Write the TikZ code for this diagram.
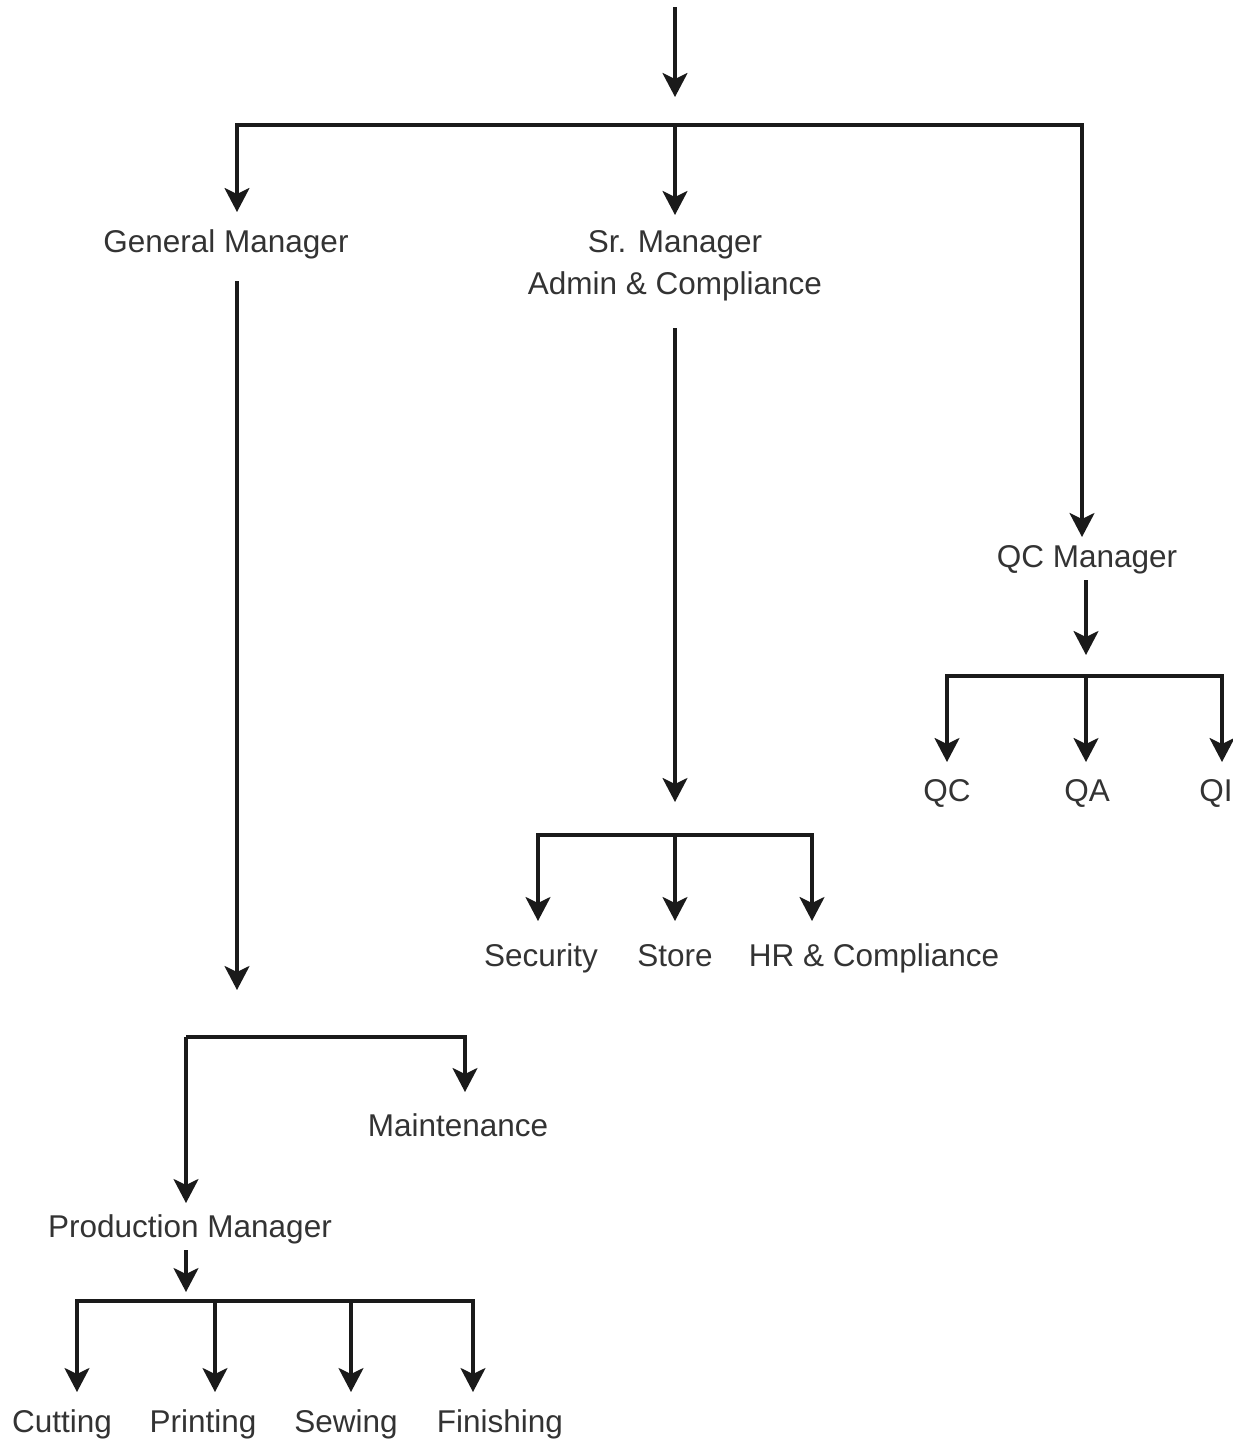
\documentclass[tikz,border=0pt]{standalone}
\usepackage{fontspec}
\setmainfont{Liberation Sans}
\usetikzlibrary{arrows.meta}
\definecolor{txt}{HTML}{333333}
\definecolor{ln}{HTML}{1A1A1A}
\begin{document}
\begin{tikzpicture}[x=1pt,y=-1pt,
  lbl/.style={text=txt,font=\fontsize{31.5}{42}\selectfont,inner sep=0pt,anchor=base},
  conn/.style={draw=ln,line width=3.1pt},
  arr/.style={conn,-{Stealth[length=24pt,width=25pt,inset=6pt]}}]
\useasboundingbox (0,0) rectangle (1233,1441);
% nodes
\node[lbl] (gm) at (226,252) {General Manager};
\node[lbl] (sr) at (675,252) {Sr. Manager};
\node[lbl] (sr2) at (675,294) {Admin \& Compliance};
\node[lbl] (qcm) at (1087,567) {QC Manager};
\node[lbl] (qc) at (947,801) {QC};
\node[lbl] (qa) at (1087,801) {QA};
\node[lbl] (qi) at (1216,801) {QI};
\node[lbl] (sec) at (541,966) {Security};
\node[lbl] (sto) at (675,966) {Store};
\node[lbl] (hr) at (874,966) {HR \& Compliance};
\node[lbl] (mai) at (458,1136) {Maintenance};
\node[lbl] (pm) at (190,1237) {Production Manager};
\node[lbl] (cut) at (62,1432) {Cutting};
\node[lbl] (pri) at (203,1432) {Printing};
\node[lbl] (sew) at (346,1432) {Sewing};
\node[lbl] (fin) at (500,1432) {Finishing};
% coordinates
\coordinate (top) at (675,7);
\coordinate (topt) at (675,97);
\coordinate (b1) at (675,125);
\coordinate (gmt) at (237,212);
\coordinate (srt) at (675,215);
\coordinate (qcmt) at (1082,537);
\coordinate (gms) at (237,281);
\coordinate (gme) at (237,990);
\coordinate (b4) at (186,1037);
\coordinate (mait) at (465,1092);
\coordinate (pmt) at (186,1203);
\coordinate (srs) at (675,328);
\coordinate (sre) at (675,802);
\coordinate (b2) at (675,835);
\coordinate (sect) at (538,921);
\coordinate (stot) at (675,921);
\coordinate (hrt) at (812,921);
\coordinate (qcms) at (1086,580);
\coordinate (qcme) at (1086,655);
\coordinate (b3) at (1086,676);
\coordinate (qct) at (947,762);
\coordinate (qat) at (1086,762);
\coordinate (qit) at (1222,762);
\coordinate (pms) at (186,1250);
\coordinate (pme) at (186,1292);
\coordinate (b5) at (186,1301);
\coordinate (cutt) at (77,1392);
\coordinate (prit) at (215,1392);
\coordinate (sewt) at (351,1392);
\coordinate (fint) at (473,1392);
% connectors
\draw[arr] (top) -- (topt);
\draw[arr] (b1) -| (gmt);
\draw[arr] (b1) -- (srt);
\draw[arr] (b1) -| (qcmt);
\draw[arr] (gms) -- (gme);
\draw[arr] (b4) -- (pmt);
\draw[arr] (b4) -| (mait);
\draw[arr] (srs) -- (sre);
\draw[arr] (b2) -| (sect);
\draw[arr] (b2) -- (stot);
\draw[arr] (b2) -| (hrt);
\draw[arr] (qcms) -- (qcme);
\draw[arr] (b3) -| (qct);
\draw[arr] (b3) -- (qat);
\draw[arr] (b3) -| (qit);
\draw[arr] (pms) -- (pme);
\draw[arr] (b5) -| (cutt);
\draw[arr] (prit |- b5) -- (prit);
\draw[arr] (sewt |- b5) -- (sewt);
\draw[arr] (b5) -| (fint);
\end{tikzpicture}
\end{document}
